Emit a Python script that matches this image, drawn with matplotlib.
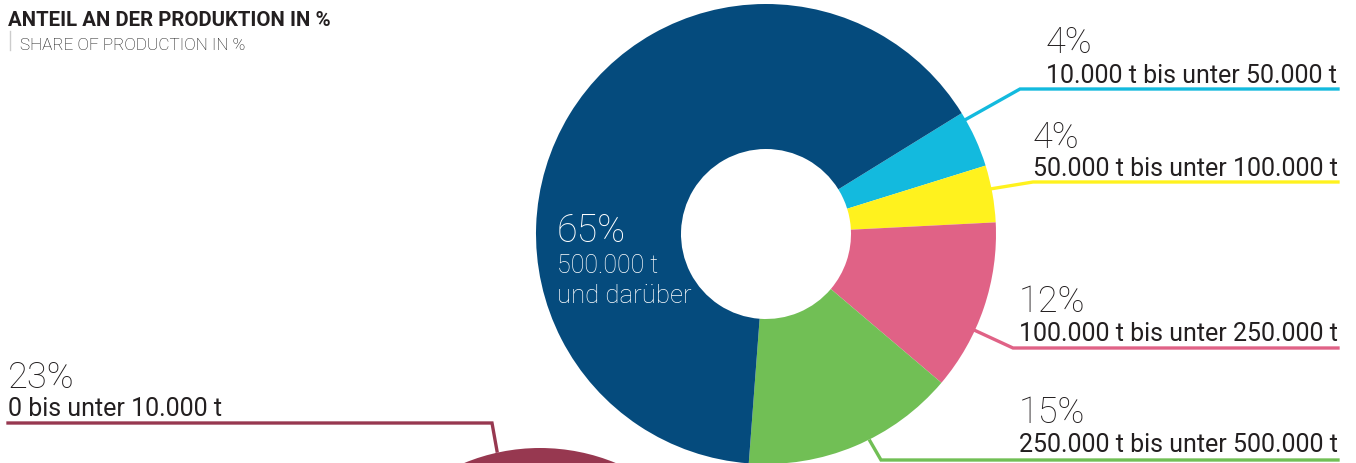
import matplotlib
matplotlib.use("Agg")
from matplotlib import pyplot as plt, patches

# share of production by producer size class
shares = [4, 4, 12, 15, 65]
classes = ["10.000 t bis unter 50.000 t", "50.000 t bis unter 100.000 t",
           "100.000 t bis unter 250.000 t", "250.000 t bis unter 500.000 t",
           "500.000 t\nund darüber"]
slice_colors = ["#13bade", "#fff21e", "#e06286", "#71bf55", "#054b7d"]
small_share = 23
small_class = "0 bis unter 10.000 t"
small_color = "#973850"

W, H = 1356, 464
def Y(y):
    return H - y

fig = plt.figure(figsize=(W / 100, H / 100), dpi=100)
ax = fig.add_axes([0, 0, 1, 1])

txt = "#231f20"

# main donut
ax.pie(shares, colors=slice_colors, startangle=31.7, counterclock=False,
       center=(766, Y(235)), radius=230, frame=True,
       wedgeprops=dict(width=145, linewidth=0))
ax.set_xlim(0, W)
ax.set_ylim(0, H)
ax.set_aspect("equal")
ax.axis("off")

# second chart, mostly outside the picture
ax.add_patch(patches.Circle((540, Y(648)), 199, color=small_color, lw=0))

# title
ax.text(8, Y(26), "ANTEIL AN DER PRODUKTION IN %", family="Roboto",
        weight="bold", fontsize=14.7, color=txt, va="baseline")
ax.plot([10, 10], [Y(32), Y(51)], color="#cccccc", lw=1)
ax.text(20, Y(50), "SHARE OF PRODUCTION IN %", family="Roboto", weight="light",
        fontsize=12.3, color="#111111", va="baseline")

# label inside the blue slice
ax.text(557, Y(242), f"{shares[4]}%", family="Roboto", weight="light", fontsize=27,
        color="white", va="baseline")
ax.text(557, Y(273), classes[4].split("\n")[0], family="Roboto", weight="light",
        fontsize=18, color="white", va="baseline")
ax.text(557, Y(303), classes[4].split("\n")[1], family="Roboto", weight="light",
        fontsize=18.5, color="white", va="baseline")

# leaders: (start on ring, knee, text x, pct baseline, label baseline)
leaders = [
    ((963, 122), (1020, 90), 1046, 53, 83),
    ((990, 190), (1033, 183), 1033, 148, 176),
    ((974, 331), (1013, 349), 1019, 312, 341),
    ((870, 442), (881, 461), 1019, 423, 452),
]
for i, (p0, p1, tx, yb, lb) in enumerate(leaders):
    ax.plot([p0[0], p1[0], 1338], [Y(p0[1]), Y(p1[1]), Y(p1[1])],
            color=slice_colors[i], lw=2.4, solid_joinstyle="miter")
    ax.text(tx, Y(yb), f"{shares[i]}%", family="Roboto", weight="light",
            fontsize=26, color=txt, va="baseline")
    ax.text(tx, Y(lb), classes[i], family="Roboto", fontsize=18,
            color=txt, va="baseline")

ax.plot([8, 492, 497], [Y(424), Y(424), Y(452)], color=small_color, lw=2.4,
        solid_joinstyle="miter")
ax.text(8, Y(388), f"{small_share}%", family="Roboto", weight="light",
        fontsize=26, color=txt, va="baseline")
ax.text(8, Y(416), small_class, family="Roboto", fontsize=18,
        color=txt, va="baseline")

fig.savefig("out.png", dpi=100)
